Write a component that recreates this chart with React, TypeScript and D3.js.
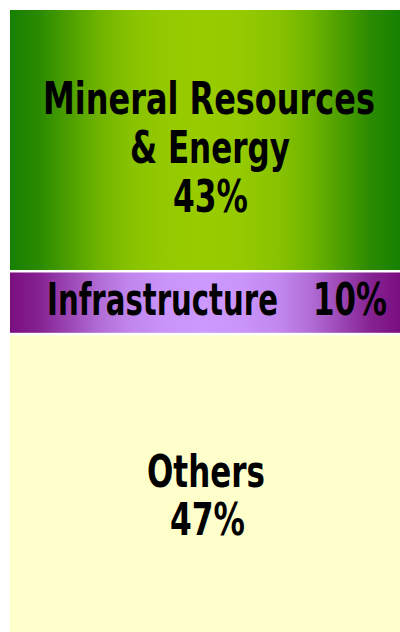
import React, { useRef, useEffect } from 'react'
import * as d3 from 'd3'

// segment names (one entry per text line) and the shares shown in the labels
const sectors = ['Mineral Resources & Energy', 'Infrastructure', 'Others']
const sectorLines = [['Mineral Resources', '& Energy'], ['Infrastructure'], ['Others']]
const shareLabels = [43, 10, 47]
// heights as drawn in the original picture (its labels are rounded a bit differently)
const drawnShares = [42.0, 10.1, 47.9]

const W = 400
const H = 632
const margin = { top: 10, right: 0, bottom: 0, left: 10 }
const gap = 2.5

const gradients = [
  { id: 'g-mineral', edge: '#178000', mid: '#99cc00' },
  { id: 'g-infra', edge: '#7a0e80', mid: '#cc99ff' },
  { id: 'g-others', edge: '#ffffcc', mid: '#ffffcc' },
]
// shading profile of the bands: edge -> middle (mirrored on the right half)
const profile = [[0, 0], [0.077, 0.15], [0.154, 0.42], [0.23, 0.68], [0.31, 0.87], [0.41, 0.97], [0.5, 1]]

// per text piece (name lines then the percentage): offset from band centre and target width
// (the original uses a narrow bold face that is not installed here, so glyphs get squeezed)
const labelLayout = [
  [
    { dx: 4, dy: -26, len: 332 },
    { dx: 5, dy: 23, len: 160 },
    { dx: 5.5, dy: 72, len: 75 },
  ],
  [
    { dx: -42.5, dy: 12.5, len: 231 },
    { dx: 145, dy: 12.5, len: 74 },
  ],
  [
    { dx: 1, dy: 3.5, len: 118 },
    { dx: 2.5, dy: 51.5, len: 75 },
  ],
]

const App = () => {
  const svgRef = useRef<SVGSVGElement>(null)

  useEffect(() => {
    const svg = d3.select(svgRef.current)
    svg.selectAll('*').remove()

    const y = d3.scaleLinear()
      .domain([0, d3.sum(drawnShares)])
      .range([margin.top, H - margin.bottom])

    const x0 = margin.left
    const x1 = W - margin.right
    const cx = (x0 + x1) / 2

    const ends = d3.cumsum(drawnShares)
    const segs = sectors.map((name, i) => {
      const start = i === 0 ? 0 : ends[i - 1]
      const top = y(start) + (i > 0 ? gap / 2 : 0)
      const bottom = y(ends[i]) - (i < sectors.length - 1 ? gap / 2 : 0)
      return { name, i, top, bottom }
    })

    const stops = [...profile, ...profile.slice(0, -1).reverse().map(([o, m]) => [1 - o, m])]
    const defs = svg.append('defs')
    gradients.forEach((g) => {
      const mix = d3.interpolateRgb(g.edge, g.mid)
      defs.append('linearGradient')
        .attr('id', g.id)
        .attr('x1', 0).attr('x2', 1).attr('y1', 0).attr('y2', 0)
        .selectAll('stop')
        .data(stops)
        .join('stop')
        .attr('offset', (d) => d[0])
        .attr('stop-color', (d) => mix(d[1]))
    })

    const groups = svg.selectAll('g.seg')
      .data(segs)
      .join('g')
      .attr('class', 'seg')

    groups.append('rect')
      .attr('x', x0)
      .attr('y', (d) => d.top)
      .attr('width', x1 - x0)
      .attr('height', (d) => d.bottom - d.top)
      .attr('fill', (d) => `url(#${gradients[d.i].id})`)

    groups.each(function (d) {
      const mid = (d.top + d.bottom) / 2
      const pieces = [...sectorLines[d.i], `${shareLabels[d.i]}%`]
      pieces.forEach((t, j) => {
        const lay = labelLayout[d.i][j]
        const tx = cx + lay.dx
        const ty = mid + lay.dy
        const text = d3.select(this).append('text')
          .attr('text-anchor', 'middle')
          .attr('font-size', 44)
          .attr('fill', '#000')
          .text(t)
        // squeeze horizontally to the width the narrow face had
        const natural = (text.node() as SVGTextElement).getComputedTextLength()
        const sx = lay.len / natural
        text.attr('transform', `translate(${tx},${ty}) scale(${sx},1)`)
      })
    })
  }, [])

  return (
    <svg
      ref={svgRef}
      width={W}
      height={H}
      style={{ position: 'absolute', left: 0, top: 0, background: '#fff' }}
      fontFamily="'DejaVu Sans', sans-serif"
      fontWeight="bold"
    />
  )
}

export default App
